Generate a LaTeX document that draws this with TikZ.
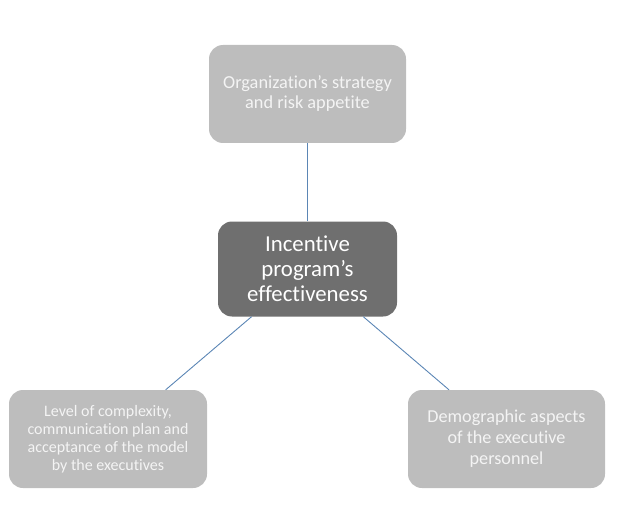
\documentclass[tikz,border=0pt]{standalone}
\usepackage{fontspec}
\setmainfont{Carlito}[Ligatures=NoCommon]
\begin{document}
\begin{tikzpicture}[x=1pt,y=-1pt,
  box/.style={rounded corners=14pt, fill=#1, draw=none, align=center, inner sep=0pt},
  link/.style={draw=linkblue, line width=0.9pt}]
\definecolor{lightbox}{HTML}{BDBDBD}
\definecolor{darkbox}{HTML}{6F6F6F}
\definecolor{lighttext}{HTML}{F4F4F4}
\definecolor{linkblue}{HTML}{5B86B5}
\useasboundingbox (0,0) rectangle (621,508);
\node[box=lightbox, minimum width=197pt, minimum height=98pt, text=lighttext,
  font=\fontsize{18.3}{20}\selectfont] (top) at (307.5,94)
  {Organization’s strategy\\and risk appetite};
\node[box=darkbox, minimum width=179pt, minimum height=95pt, text=white,
  font=\fontsize{22.8}{25}\selectfont] (mid) at (307.5,269)
  {Incentive\\program’s\\effectiveness};
\node[box=lightbox, minimum width=198pt, minimum height=98pt, text=lighttext,
  font=\fontsize{16}{18}\selectfont] (bl) at (108,439)
  {Level of complexity,\\communication plan and\\acceptance of the model\\by the executives};
\node[box=lightbox, minimum width=197pt, minimum height=98pt, text=lighttext,
  font=\fontsize{18.2}{21}\selectfont] (br) at (506.5,439)
  {Demographic aspects\\of the executive\\personnel};
\draw[link] (top) -- (mid);
\draw[link] (mid) -- (bl);
\draw[link] (mid) -- (br);
\end{tikzpicture}
\end{document}
